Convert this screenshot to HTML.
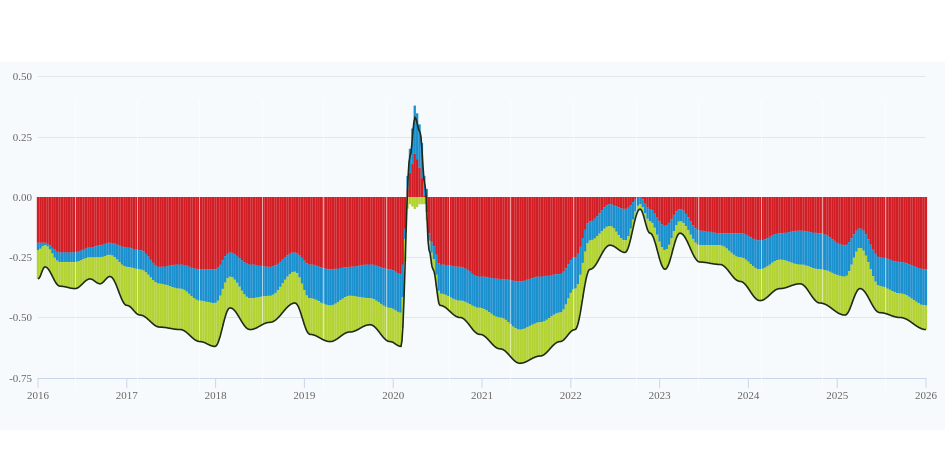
<!DOCTYPE html>
<html><head><meta charset="utf-8"><style>
html,body{margin:0;padding:0;background:#fff;width:945px;height:472px;overflow:hidden}
svg{display:block}
text{font-family:"Liberation Serif",serif;font-size:11px;fill:#666}
</style></head><body>
<svg id="s" width="945" height="472" xmlns="http://www.w3.org/2000/svg">
<rect x="0" y="62" width="945" height="368" fill="#f7fafc"/>
<g stroke="#e3e6ec" stroke-width="1">
<line x1="38" x2="926" y1="76.5" y2="76.5"/>
<line x1="38" x2="926" y1="137.5" y2="137.5"/>
<line x1="38" x2="926" y1="197.5" y2="197.5"/>
<line x1="38" x2="926" y1="257.5" y2="257.5"/>
<line x1="38" x2="926" y1="317.5" y2="317.5"/>
</g>
<line x1="38" x2="926" y1="378.5" y2="378.5" stroke="#ccd6eb"/>
<g id="bars"></g>
<path id="ln" fill="none" stroke="#1c2a18" stroke-width="1.6"/>
<g text-anchor="end">
<text x="32" y="80">0.50</text><text x="32" y="141">0.25</text><text x="32" y="201">0.00</text>
<text x="32" y="261">-0.25</text><text x="32" y="321">-0.50</text><text x="32" y="382">-0.75</text>
</g>
<g id="xt" text-anchor="middle"></g>
</svg>
<script>
var K=[[38,-.19,-.22,-.34],[45,-.19,-.2,-.29],[60,-.23,-.27,-.37],[75,-.23,-.27,-.38],[90,-.21,-.25,-.34],[100,-.2,-.25,-.36],[110,-.19,-.24,-.33],[127,-.21,-.29,-.45],[140,-.22,-.3,-.49],[160,-.29,-.36,-.54],[180,-.28,-.38,-.55],[200,-.3,-.43,-.6],[215,-.3,-.44,-.62],[230,-.23,-.33,-.46],[250,-.28,-.42,-.55],[270,-.29,-.41,-.52],[295,-.23,-.31,-.44],[310,-.28,-.42,-.57],[330,-.3,-.45,-.6],[350,-.29,-.41,-.56],[370,-.28,-.42,-.53],[390,-.3,-.46,-.6],[401,-.32,-.48,-.62],
'S',[410,.1,.1,-.03],[415,.18,.2,-.05],[420,.12,.18,-.03],[425,0,.08,-.03],'E',
[429,-.15,-.18,-.22],[433,-.2,-.25,-.3],[440,-.28,-.4,-.45],[460,-.29,-.43,-.5],[480,-.33,-.46,-.57],[500,-.34,-.5,-.63],[520,-.35,-.55,-.69],[540,-.33,-.52,-.66],[560,-.32,-.48,-.6],[575,-.25,-.38,-.55],[590,-.1,-.18,-.3],[610,-.03,-.12,-.2],[625,-.05,-.18,-.23],[640,0,-.03,-.05],[650,-.05,-.1,-.15],[665,-.12,-.22,-.3],[680,-.05,-.1,-.15],[700,-.14,-.2,-.27],[720,-.15,-.2,-.28],[740,-.15,-.25,-.35],[760,-.18,-.3,-.43],[780,-.15,-.26,-.38],[800,-.14,-.28,-.36],[820,-.15,-.3,-.44],[845,-.2,-.33,-.49],[860,-.13,-.21,-.38],[880,-.25,-.37,-.48],[900,-.27,-.4,-.5],[926,-.3,-.45,-.55]];
var P=[],sp=false;
K.forEach(function(k){if(k==='S'){sp=true;return}if(k==='E'){sp=false;return}
 if(sp)P.push([k[0],k[1],k[2],k[3]]);else P.push([k[0],k[1],k[2]-k[1],k[3]-k[2]]);});
function interp(x,j){var i=0;while(i<P.length-2&&P[i+1][0]<x)i++;
 var p1=P[i],p2=P[i+1];
 var t=(x-p1[0])/(p2[0]-p1[0]);t=Math.max(0,Math.min(1,t));
 var s=(1-Math.cos(Math.PI*t))/2;
 return p1[j]+(p2[j]-p1[j])*s;}
function Y(v){return 197-v*241}
var cols=['#d21f26','#1b90cf','#b3d234'],h='',ln='';
for(var x=38;x<=926;x+=2.4){
 var pos=0,neg=0;
 for(var j=1;j<=3;j++){var v=interp(x,j);var a,b;
  if(v>=0){a=pos;pos+=v;b=pos}else{a=neg;neg+=v;b=neg}
  var y1=Y(Math.max(a,b)),y2=Y(Math.min(a,b));
  h+='<rect x="'+(x-1.2).toFixed(1)+'" y="'+y1.toFixed(1)+'" width="2.3" height="'+(y2-y1).toFixed(1)+'" fill="'+cols[j-1]+'"/>';}
}
for(var x=38;x<=926;x+=1){var t=interp(x,1)+interp(x,2)+interp(x,3);ln+=(x==38?'M':'L')+x+','+Y(t).toFixed(1);}
[75,137,199,262,323,386,449,510,573,636,698,761,822,885].forEach(function(x){h+='<rect x="'+x+'" y="100" width="1" height="290" fill="#fff" opacity="0.55"/>'});
document.getElementById('bars').innerHTML=h;
document.getElementById('ln').setAttribute('d',ln);
var xt='';for(var i=0;i<=10;i++){var x=38+i*88.8;xt+='<line x1="'+x+'" x2="'+x+'" y1="378" y2="388" stroke="#ccd6eb"/><text x="'+x+'" y="399">'+(2016+i)+'</text>';}
document.getElementById('xt').innerHTML=xt;
</script>
</body></html>
